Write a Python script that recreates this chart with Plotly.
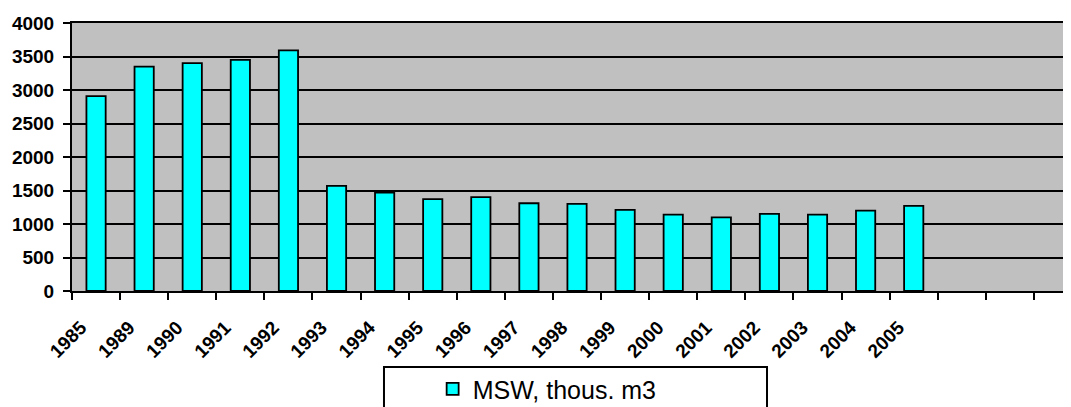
import plotly.graph_objects as go

years = ["1985", "1989", "1990", "1991", "1992", "1993", "1994", "1995", "1996",
         "1997", "1998", "1999", "2000", "2001", "2002", "2003", "2004", "2005"]
msw = [2910, 3350, 3400, 3450, 3590, 1570, 1470, 1370, 1400,
       1310, 1300, 1210, 1140, 1100, 1150, 1140, 1200, 1270]
blank_slots = [" ", "  ", "   "]
series_name = "MSW, thous. m3"

categories = years + blank_slots
values = msw + [None] * len(blank_slots)

fig = go.Figure()
fig.add_trace(go.Bar(
    x=categories, y=values, name=series_name,
    marker=dict(color="#00FFFF", line=dict(color="black", width=1.8)),
    showlegend=True,
))

tick_font = dict(family="Liberation Sans, Arial", size=19, color="black", weight="bold")

fig.update_layout(
    width=1071, height=407,
    margin=dict(l=64, r=8, t=15, b=124, autoexpand=False),
    paper_bgcolor="white",
    plot_bgcolor="#C0C0C0",
    bargap=0.6,
    showlegend=True,
    legend=dict(
        orientation="h",
        x=0.361, xanchor="left",
        y=-0.366, yanchor="middle",
        font=dict(family="Liberation Sans, Arial", size=25, color="black"),
        bgcolor="rgba(0,0,0,0)",
        borderwidth=0,
    ),
    xaxis=dict(
        type="category",
        categoryorder="array", categoryarray=categories,
        range=[-0.5, 20.27],
        tickson="boundaries",
        ticks="outside", ticklen=7, tickwidth=2, tickcolor="black",
        showgrid=False,
        showline=True, linecolor="black", linewidth=2, mirror=True,
        tickangle=-45,
        tickfont=tick_font,
        ticklabelshift=-15,
        ticklabelstandoff=16,
        automargin=False,
        zeroline=False,
    ),
    yaxis=dict(
        range=[0, 4000],
        tickvals=[0, 500, 1000, 1500, 2000, 2500, 3000, 3500, 4000],
        ticks="outside", ticklen=7, tickwidth=2, tickcolor="black",
        showgrid=True, gridcolor="black", gridwidth=2,
        showline=True, linecolor="black", linewidth=2,
        tickfont=tick_font,
        ticklabelstandoff=5,
        automargin=False,
        zeroline=False,
    ),
    shapes=[dict(
        type="rect", xref="paper", yref="paper",
        x0=0.3123, x1=0.6957, y0=-0.2836, y1=-0.55,
        line=dict(color="black", width=2), fillcolor="rgba(0,0,0,0)",
        layer="above",
    )],
)

fig.write_html("out.html")
